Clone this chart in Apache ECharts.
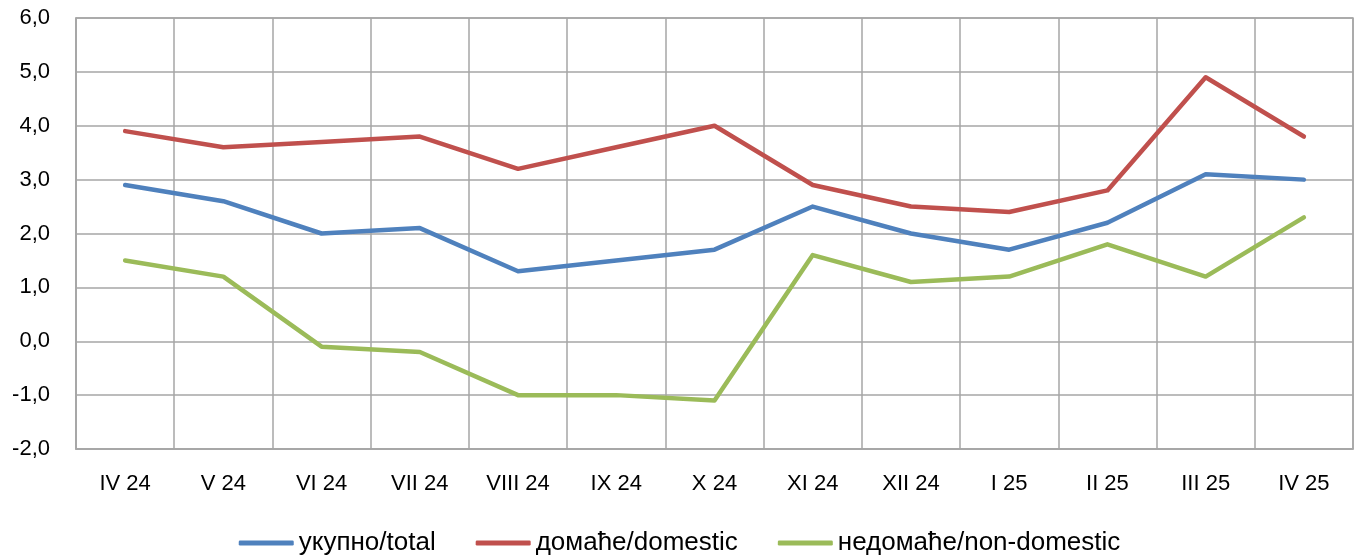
<!DOCTYPE html>
<html>
<head>
<meta charset="utf-8">
<script src="https://cdn.jsdelivr.net/npm/echarts@6/dist/echarts.min.js"></script>
<style>
  html, body { margin: 0; padding: 0; background: #fff; }
  #chart { width: 1359px; height: 558px; }
</style>
</head>
<body>
<div id="chart"></div>
<script>
var months = ['IV 24', 'V 24', 'VI 24', 'VII 24', 'VIII 24', 'IX 24', 'X 24',
              'XI 24', 'XII 24', 'I 25', 'II 25', 'III 25', 'IV 25'];
var total = [2.9, 2.6, 2.0, 2.1, 1.3, 1.5, 1.7, 2.5, 2.0, 1.7, 2.2, 3.1, 3.0];
var domestic = [3.9, 3.6, 3.7, 3.8, 3.2, 3.6, 4.0, 2.9, 2.5, 2.4, 2.8, 4.9, 3.8];
var nonDomestic = [1.5, 1.2, -0.1, -0.2, -1.0, -1.0, -1.1, 1.6, 1.1, 1.2, 1.8, 1.2, 2.3];

var font = '"Liberation Sans", "DejaVu Sans", sans-serif';
var gridColor = '#a6a6a6';

function mkLine(name, data, color) {
    return {
        name: name,
        type: 'line',
        data: data,
        symbol: 'none',
        lineStyle: { color: color, width: 4.5, cap: 'round', join: 'round' },
        itemStyle: { color: color }
    };
}

var chart = echarts.init(document.getElementById('chart'));
chart.setOption({
    animation: false,
    textStyle: { fontFamily: font },
    grid: {
        left: 76, right: 6, top: 18, bottom: 109,
        show: true, borderColor: gridColor, borderWidth: 1.5
    },
    legend: {
        top: 525,
        left: 'center',
        itemWidth: 55,
        itemHeight: 5,
        itemGap: 40,
        icon: 'roundRect',
        textStyle: { fontSize: 26, color: '#000', fontFamily: font },
        data: ['укупно/total', 'домаће/domestic', 'недомаће/non-domestic']
    },
    xAxis: {
        type: 'category',
        data: months,
        boundaryGap: true,
        axisLine: { onZero: false, lineStyle: { color: gridColor, width: 1.5 } },
        axisTick: { show: false },
        splitLine: { show: true, lineStyle: { color: gridColor, width: 1.5 } },
        axisLabel: { color: '#000', fontSize: 22, margin: 24, interval: 0 }
    },
    yAxis: {
        type: 'value',
        min: -2, max: 6, interval: 1,
        axisLine: { show: true, lineStyle: { color: gridColor, width: 1.5 } },
        axisTick: { show: false },
        splitLine: { lineStyle: { color: gridColor, width: 1.5 } },
        axisLabel: {
            color: '#000', fontSize: 22, margin: 26,
            formatter: function (v) { return v.toFixed(1).replace('.', ','); }
        }
    },
    series: [
        mkLine('укупно/total', total, '#4f81bd'),
        mkLine('домаће/domestic', domestic, '#c0504d'),
        mkLine('недомаће/non-domestic', nonDomestic, '#9bbb59')
    ]
});
</script>
</body>
</html>
